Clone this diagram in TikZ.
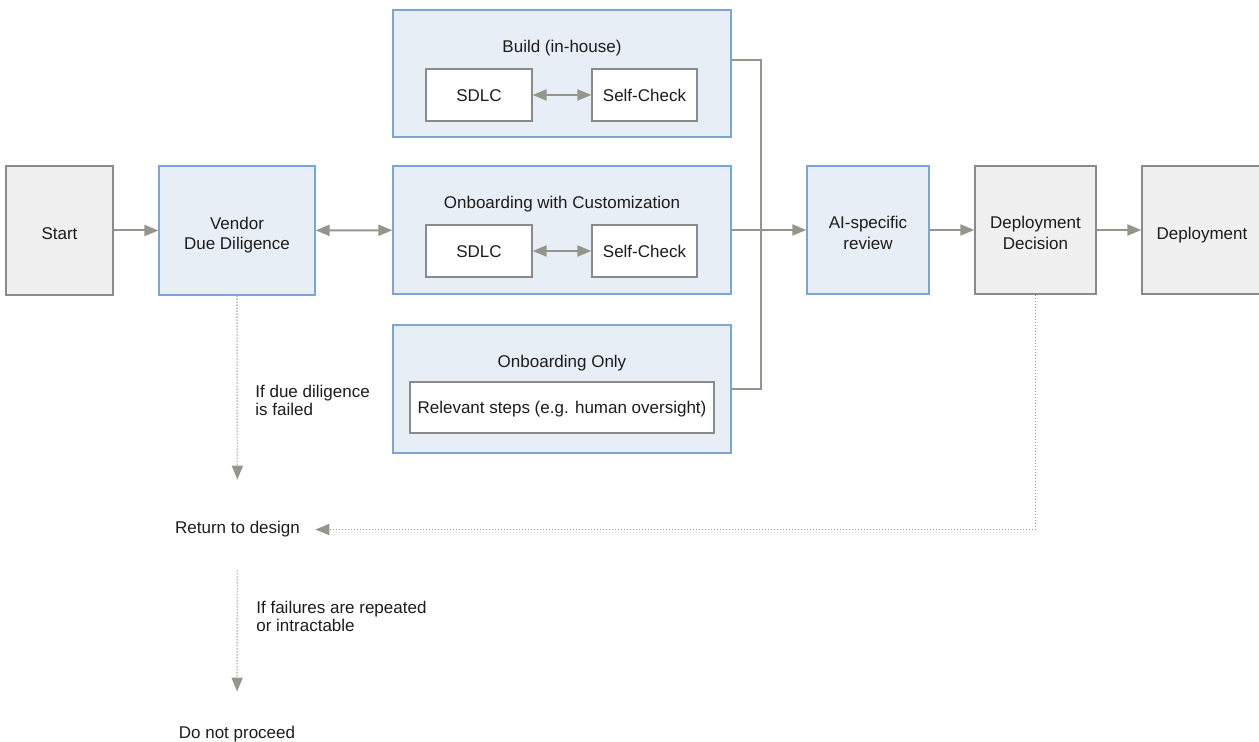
\documentclass[tikz,border=0pt]{standalone}
\usepackage{fontspec}
\setmainfont{Liberation Sans}
\usetikzlibrary{arrows.meta}

\definecolor{boxgray}{HTML}{F0F0F0}
\definecolor{bordergray}{HTML}{8A8A8A}
\definecolor{boxblue}{HTML}{E8EEF5}
\definecolor{borderblue}{HTML}{7BA5D6}
\definecolor{arrowgray}{HTML}{94968C}
\definecolor{dotgray}{HTML}{9C9C9C}
\definecolor{ink}{HTML}{1C1C1C}

\tikzset{
  every node/.style={font=\fontsize{8.5pt}{10.3pt}\selectfont, text=ink},
  box/.style={line width=0.65pt, align=center, inner sep=0pt},
  graybox/.style={box, fill=boxgray, draw=bordergray},
  bluebox/.style={box, fill=boxblue, draw=borderblue},
  whitebox/.style={box, fill=white, draw=bordergray, text height=6.5pt, text depth=0pt},
  boxtext/.style={anchor=base, align=center, inner sep=0pt},
  title/.style={anchor=base, inner sep=0pt},
  note/.style={anchor=base west, align=left, inner sep=0pt,
    font=\fontsize{8.5pt}{9.3pt}\selectfont},
  plain/.style={anchor=base, inner sep=0pt, text height=6pt, text depth=1.5pt},
  tip/.tip={Triangle[length=7pt, width=5.5pt]},
  conn/.style={draw=arrowgray, line width=1pt},
  arr/.style={conn, -tip},
  darr/.style={conn, tip-tip},
  dots/.style={draw=dotgray, line width=0.8pt, dash pattern=on 0.5pt off 1pt},
  dotarr/.style={dots, -{Triangle[length=7pt, width=5.5pt, color=arrowgray]}},
}

\begin{document}
\begin{tikzpicture}[x=0.5pt, y=-0.5pt]
\useasboundingbox (0,0) rectangle (1259,742);

% main row
\node[graybox, minimum width=53.5pt, minimum height=64.5pt] (start) at (59.5,230.5) {};
\node[boxtext] (startt) at ([yshift=-4.5pt]start.center) {Start};
\node[bluebox, minimum width=78pt, minimum height=64.5pt] (vendor) at (237,230.5) {};
\node[boxtext] (vendort) at ([yshift=-9.75pt]vendor.center) {Vendor\\Due Diligence};

% three alternative paths
\node[bluebox, minimum width=169pt, minimum height=63.5pt] (build) at (562,73.5) {};
\node[title] (buildt) at (562,52.7) {Build (in-house)};
\node[whitebox, minimum width=53pt, minimum height=26pt] (sdlcA) at (479,95) {SDLC};
\node[whitebox, minimum width=52.5pt, minimum height=26pt] (checkA) at (644.5,95) {Self-Check};

\node[bluebox, minimum width=169pt, minimum height=64pt] (cust) at (562,230) {};
\node[title] (custt) at (562,208.5) {Onboarding with Customization};
\node[whitebox, minimum width=53pt, minimum height=26pt] (sdlcB) at (479,251) {SDLC};
\node[whitebox, minimum width=52.5pt, minimum height=26pt] (checkB) at (644.5,251) {Self-Check};

\node[bluebox, minimum width=169pt, minimum height=64pt] (only) at (562,389) {};
\node[title] (onlyt) at (562,368) {Onboarding Only};
\node[whitebox, minimum width=152pt, minimum height=25.5pt] (steps) at (562,407.5) {Relevant steps (e.g. human oversight)};

% review and deployment
\node[bluebox, minimum width=61pt, minimum height=64pt] (ai) at (868,230) {};
\node[boxtext] (ait) at ([yshift=-9.65pt]ai.center) {AI-specific\\review};
\node[graybox, minimum width=60.5pt, minimum height=64pt] (dd) at (1035.5,230) {};
\node[boxtext] (ddt) at ([yshift=-9.65pt]dd.center) {Deployment\\Decision};
\node[graybox, minimum width=60pt, minimum height=64pt] (dep) at (1202,230) {};
\node[boxtext] (dept) at ([yshift=-4.65pt]dep.center) {Deployment};

% fallback outcomes
\node[plain] (ret) at (237.5,534) {Return to design};
\node[plain] (stop) at (237,739) {Do not proceed};
\node[note] (note1) at (255,415.7) {If due diligence\\is failed};
\node[note] (note2) at (256,632) {If failures are repeated\\or intractable};

\coordinate (bus) at (761,230);

% solid connectors
\draw[arr] (start) -- (vendor);
\draw[darr] (vendor) -- (cust);
\draw[darr] (sdlcA) -- (checkA);
\draw[darr] (sdlcB) -- (checkB);
\draw[conn] ([yshift=6.75pt]build.east) -| (bus) |- (only.east);
\draw[arr] (cust.east) -- (ai.west);
\draw[arr] (ai) -- (dd);
\draw[arr] (dd) -- (dep);

% dotted fallbacks
\draw[dotarr, shorten >=21pt] (vendor.south) -- (ret.north);
\draw[dotarr, shorten >=7.5pt] (dd.south) |- (ret.east);
\draw[dotarr, shorten <=16.5pt, shorten >=17.5pt] (ret.south) -- (stop.north);
\end{tikzpicture}
\end{document}
